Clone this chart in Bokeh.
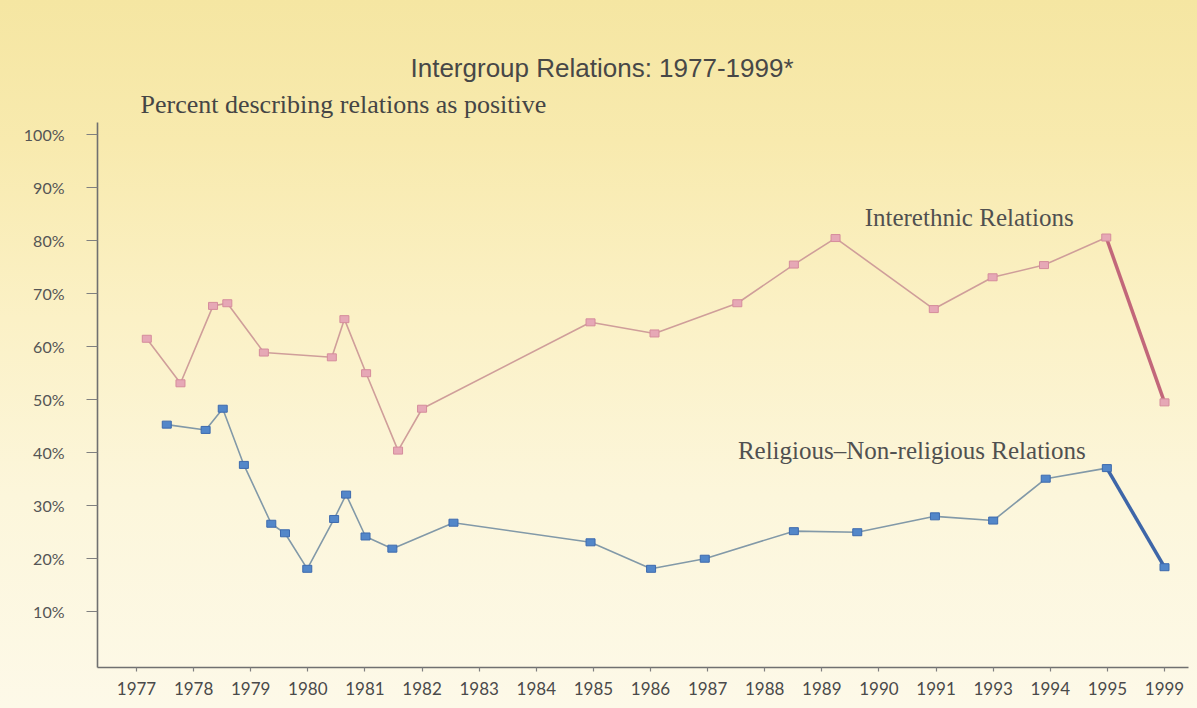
from bokeh.plotting import figure
from bokeh.models import FixedTicker, Label, Range1d, Title
from bokeh.embed import file_html
from bokeh.resources import INLINE

# ---- data (x = position on the evenly spaced year axis, 0 = 1977 tick) ----
year_labels = ["1977", "1978", "1979", "1980", "1981", "1982", "1983", "1984",
               "1985", "1986", "1987", "1988", "1989", "1990", "1991", "1993",
               "1994", "1995", "1999"]

ethnic_x = [0.18, 0.77, 1.34, 1.59, 2.23, 3.42, 3.64, 4.02, 4.58, 5.0,
            7.95, 9.07, 10.52, 11.51, 12.24, 13.96, 14.99, 15.89, 16.98, 18.0]
ethnic_y = [61.4, 53.0, 67.6, 68.1, 58.8, 57.9, 65.1, 54.9, 40.3, 48.2,
            64.5, 62.4, 68.1, 75.4, 80.4, 67.0, 73.0, 75.3, 80.5, 49.4]

relig_x = [0.53, 1.21, 1.51, 1.88, 2.36, 2.6, 2.99, 3.46, 3.67, 4.01, 4.48,
           5.55, 7.95, 9.01, 9.95, 11.51, 12.62, 13.98, 15.0, 15.92, 16.99, 18.0]
relig_y = [45.2, 44.2, 48.2, 37.6, 26.5, 24.7, 18.0, 27.4, 32.0, 24.1, 21.8,
           26.7, 23.0, 18.0, 19.9, 25.1, 24.9, 27.9, 27.1, 35.0, 37.0, 18.3]

y_ticks = [10, 20, 30, 40, 50, 60, 70, 80, 90, 100]

title_text = "Intergroup Relations: 1977-1999*"
subtitle_text = "Percent describing relations as positive"
ethnic_name = "Interethnic Relations"
relig_name = "Religious\u2013Non-religious Relations"

p = figure(width=1197, height=708, output_backend="svg", toolbar_location=None,
           title=None,
           x_range=Range1d(-0.683, 18.42), y_range=Range1d(-0.62, 102.2),
           min_border_left=97, min_border_right=9, min_border_top=122,
           min_border_bottom=41)

p.border_fill_color = None
p.background_fill_color = None
p.styles = {"background-image":
            "linear-gradient(to bottom, #f5e6a2 0%, #f8eaae 20%, #fbf1c6 45%, #fcf6db 70%, #fdf9e8 100%)"}
p.outline_line_color = None
p.grid.visible = False

# axes
p.xaxis.ticker = FixedTicker(ticks=list(range(len(year_labels))))
p.xaxis.major_label_overrides = {i: s for i, s in enumerate(year_labels)}
p.xaxis.minor_tick_line_color = None
p.xaxis.major_tick_out = 4
p.xaxis.major_tick_in = 0
p.xaxis.major_label_standoff = 10
p.xaxis.major_label_text_font = "Lato"
p.xaxis.major_label_text_font_size = "17px"
p.xaxis.major_label_text_color = "#4a4a4a"

p.yaxis.ticker = FixedTicker(ticks=y_ticks)
p.yaxis.major_label_overrides = {v: f"{v}%" for v in y_ticks}
p.yaxis.minor_tick_line_color = None
p.yaxis.major_tick_out = 11
p.yaxis.major_tick_in = 0
p.yaxis.major_label_standoff = 22
p.yaxis.major_label_text_font = "Lato"
p.yaxis.major_label_text_font_size = "16px"
p.yaxis.major_label_text_color = "#555555"

for ax in (p.xaxis, p.yaxis):
    ax.axis_line_color = "#707070"
    ax.axis_line_width = 1.6
    ax.major_tick_line_color = "#808080"
    ax.major_tick_line_width = 1.2

# lines (thin until 1995, heavy last segment 1995 -> 1999)
p.line(ethnic_x[:-1], ethnic_y[:-1], line_color="#cf9e9a", line_width=1.6)
p.line(ethnic_x[-2:], ethnic_y[-2:], line_color="#c2677a", line_width=3.5)
p.line(relig_x[:-1], relig_y[:-1], line_color="#8299a8", line_width=1.6)
p.line(relig_x[-2:], relig_y[-2:], line_color="#3e66a8", line_width=3.5)

# markers
p.rect(ethnic_x, ethnic_y, width=9, height=7, width_units="screen",
       height_units="screen", fill_color="#e6a8b6", line_color="#d58c9c",
       line_width=1)
p.rect(relig_x, relig_y, width=9, height=7, width_units="screen",
       height_units="screen", fill_color="#5387c9", line_color="#3d6aae",
       line_width=1)

# titles (sub-title closest to the frame, main title above it)
p.add_layout(Title(text=subtitle_text, align="left", offset=43, standoff=7,
                   text_font="Liberation Serif", text_font_size="26px",
                   text_font_style="normal", text_color="#454545"), "above")
p.add_layout(Title(text=title_text, align="left", offset=313, standoff=4,
                   text_font="Liberation Sans", text_font_size="26px",
                   text_font_style="normal", text_color="#474747"), "above")

# series annotations
p.add_layout(Label(x=12.75, y=84.2, text=ethnic_name, text_align="left",
                   text_baseline="middle", text_font="Liberation Serif",
                   text_font_size="25px", text_color="#505050"))
p.add_layout(Label(x=10.53, y=40.3, text=relig_name, text_align="left",
                   text_baseline="middle", text_font="Liberation Serif",
                   text_font_size="25px", text_color="#505050"))

open("out.html", "w").write(file_html(p, INLINE))
